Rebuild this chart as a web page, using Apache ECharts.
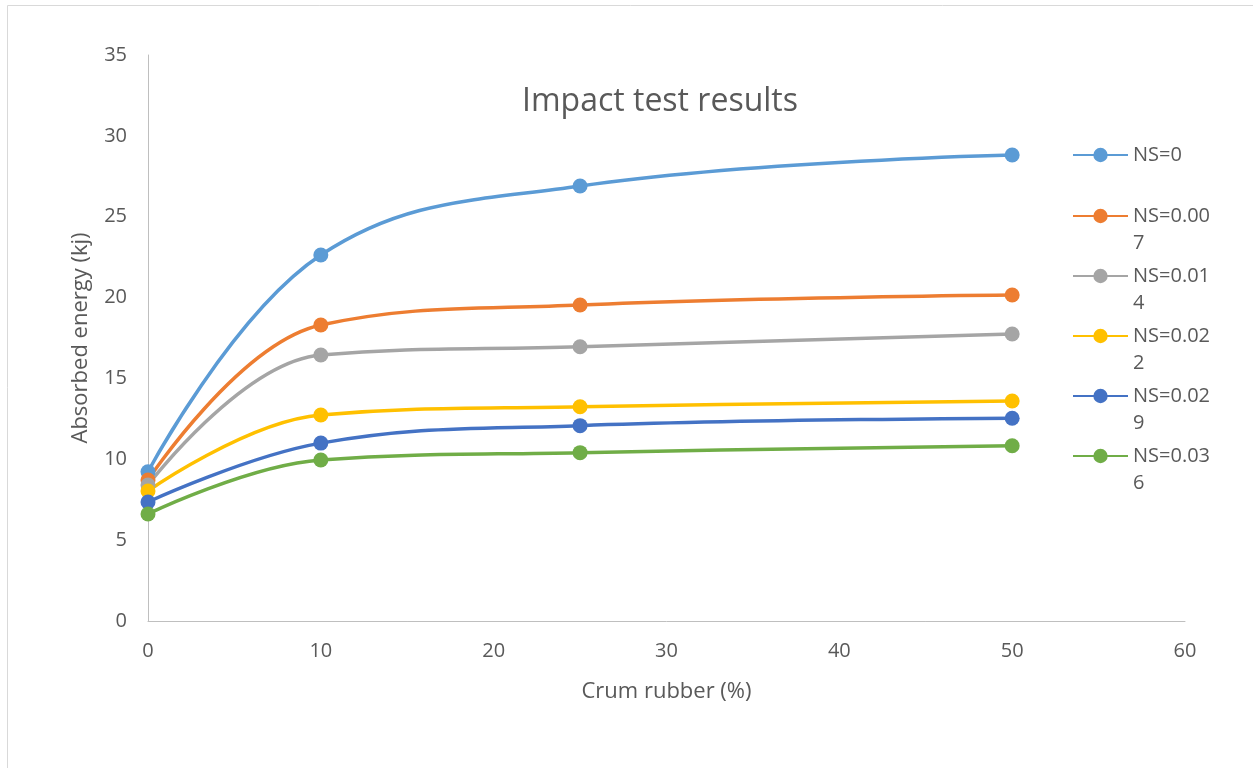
<!DOCTYPE html>
<html>
<head>
<meta charset="utf-8">
<script src="https://cdn.jsdelivr.net/npm/echarts@6/dist/echarts.min.js"></script>
<style>html,body{margin:0;padding:0;background:#fff}#c{width:1253px;height:768px}</style>
</head>
<body>
<div id="c"></div>
<script>
const xValues = [0, 10, 25, 50];
const seriesNames = ['NS=0', 'NS=0.007', 'NS=0.014', 'NS=0.022', 'NS=0.029', 'NS=0.036'];
const ns0     = [9.23, 22.63, 26.9, 28.82];
const ns0007  = [8.72, 18.3, 19.54, 20.16];
const ns0014  = [8.41, 16.45, 16.96, 17.75];
const ns0022  = [8.04, 12.74, 13.25, 13.6];
const ns0029  = [7.36, 11.0, 12.08, 12.54];
const ns0036  = [6.62, 9.96, 10.41, 10.84];
const seriesValues = [ns0, ns0007, ns0014, ns0022, ns0029, ns0036];
const colors = ['#5B9BD5', '#ED7D31', '#A5A5A5', '#FFC000', '#4472C4', '#70AD47'];

const FONT = 'Open Sans';
const TXT = '#595959';
const FS = 20;
const NAME_FS = 22;
const LH = 27;
const legendCenters = [155, 216, 276, 336, 396, 456];

const chart = echarts.init(document.getElementById('c'));
const legends = seriesNames.map((n, i) => {
  const multi = n.length > 7;
  return {
    data: [n],
    orient: 'vertical',
    left: 1072,
    top: multi ? legendCenters[i] - LH * 1.5 : legendCenters[i] - LH / 2,
    padding: 0,
    itemWidth: 55,
    itemHeight: 18,
    itemGap: 0,
    selectedMode: false,
    formatter: nm => nm.length > 7 ? ' \n' + nm.slice(0, 7) + '\n' + nm.slice(7) : nm,
    textStyle: { fontFamily: FONT, fontSize: FS, color: TXT, lineHeight: LH }
  };
});

chart.setOption({
  animation: false,
  title: {
    text: 'Impact test results',
    left: 655, top: 81, textAlign: 'center',
    textStyle: { fontFamily: FONT, fontSize: 32, fontWeight: 'normal', color: TXT }
  },
  graphic: [{
    type: 'rect', shape: { x: 7.5, y: 5.5, width: 1300, height: 800 },
    style: { fill: 'none', stroke: '#D9D9D9', lineWidth: 1 }, silent: true
  }],
  legend: legends,
  grid: { left: 148, right: 68, top: 55, bottom: 147, containLabel: false },
  xAxis: {
    type: 'value', min: 0, max: 60, interval: 10,
    name: 'Crum rubber (%)', nameLocation: 'middle', nameGap: 60,
    nameTextStyle: { fontFamily: FONT, fontSize: NAME_FS, color: TXT },
    axisLine: { show: true, lineStyle: { color: '#BFBFBF', width: 1 } },
    axisTick: { show: false },
    splitLine: { show: false },
    axisLabel: { fontFamily: FONT, fontSize: FS, color: TXT, margin: 20 }
  },
  yAxis: {
    type: 'value', min: 0, max: 35, interval: 5,
    name: 'Absorbed energy (kj)', nameLocation: 'middle', nameGap: 56,
    nameTextStyle: { fontFamily: FONT, fontSize: NAME_FS, color: TXT },
    axisLine: { show: true, lineStyle: { color: '#BFBFBF', width: 1 } },
    axisTick: { show: false },
    splitLine: { show: false },
    axisLabel: { fontFamily: FONT, fontSize: FS, color: TXT, margin: 21 }
  },
  series: seriesNames.map((n, i) => ({
    name: n,
    type: 'line',
    smooth: 0.4,
    symbol: 'circle',
    symbolSize: 15,
    color: colors[i],
    lineStyle: { width: 3.5, color: colors[i] },
    itemStyle: { color: colors[i] },
    data: xValues.map((x, j) => [x, seriesValues[i][j]])
  }))
});
</script>
</body>
</html>
